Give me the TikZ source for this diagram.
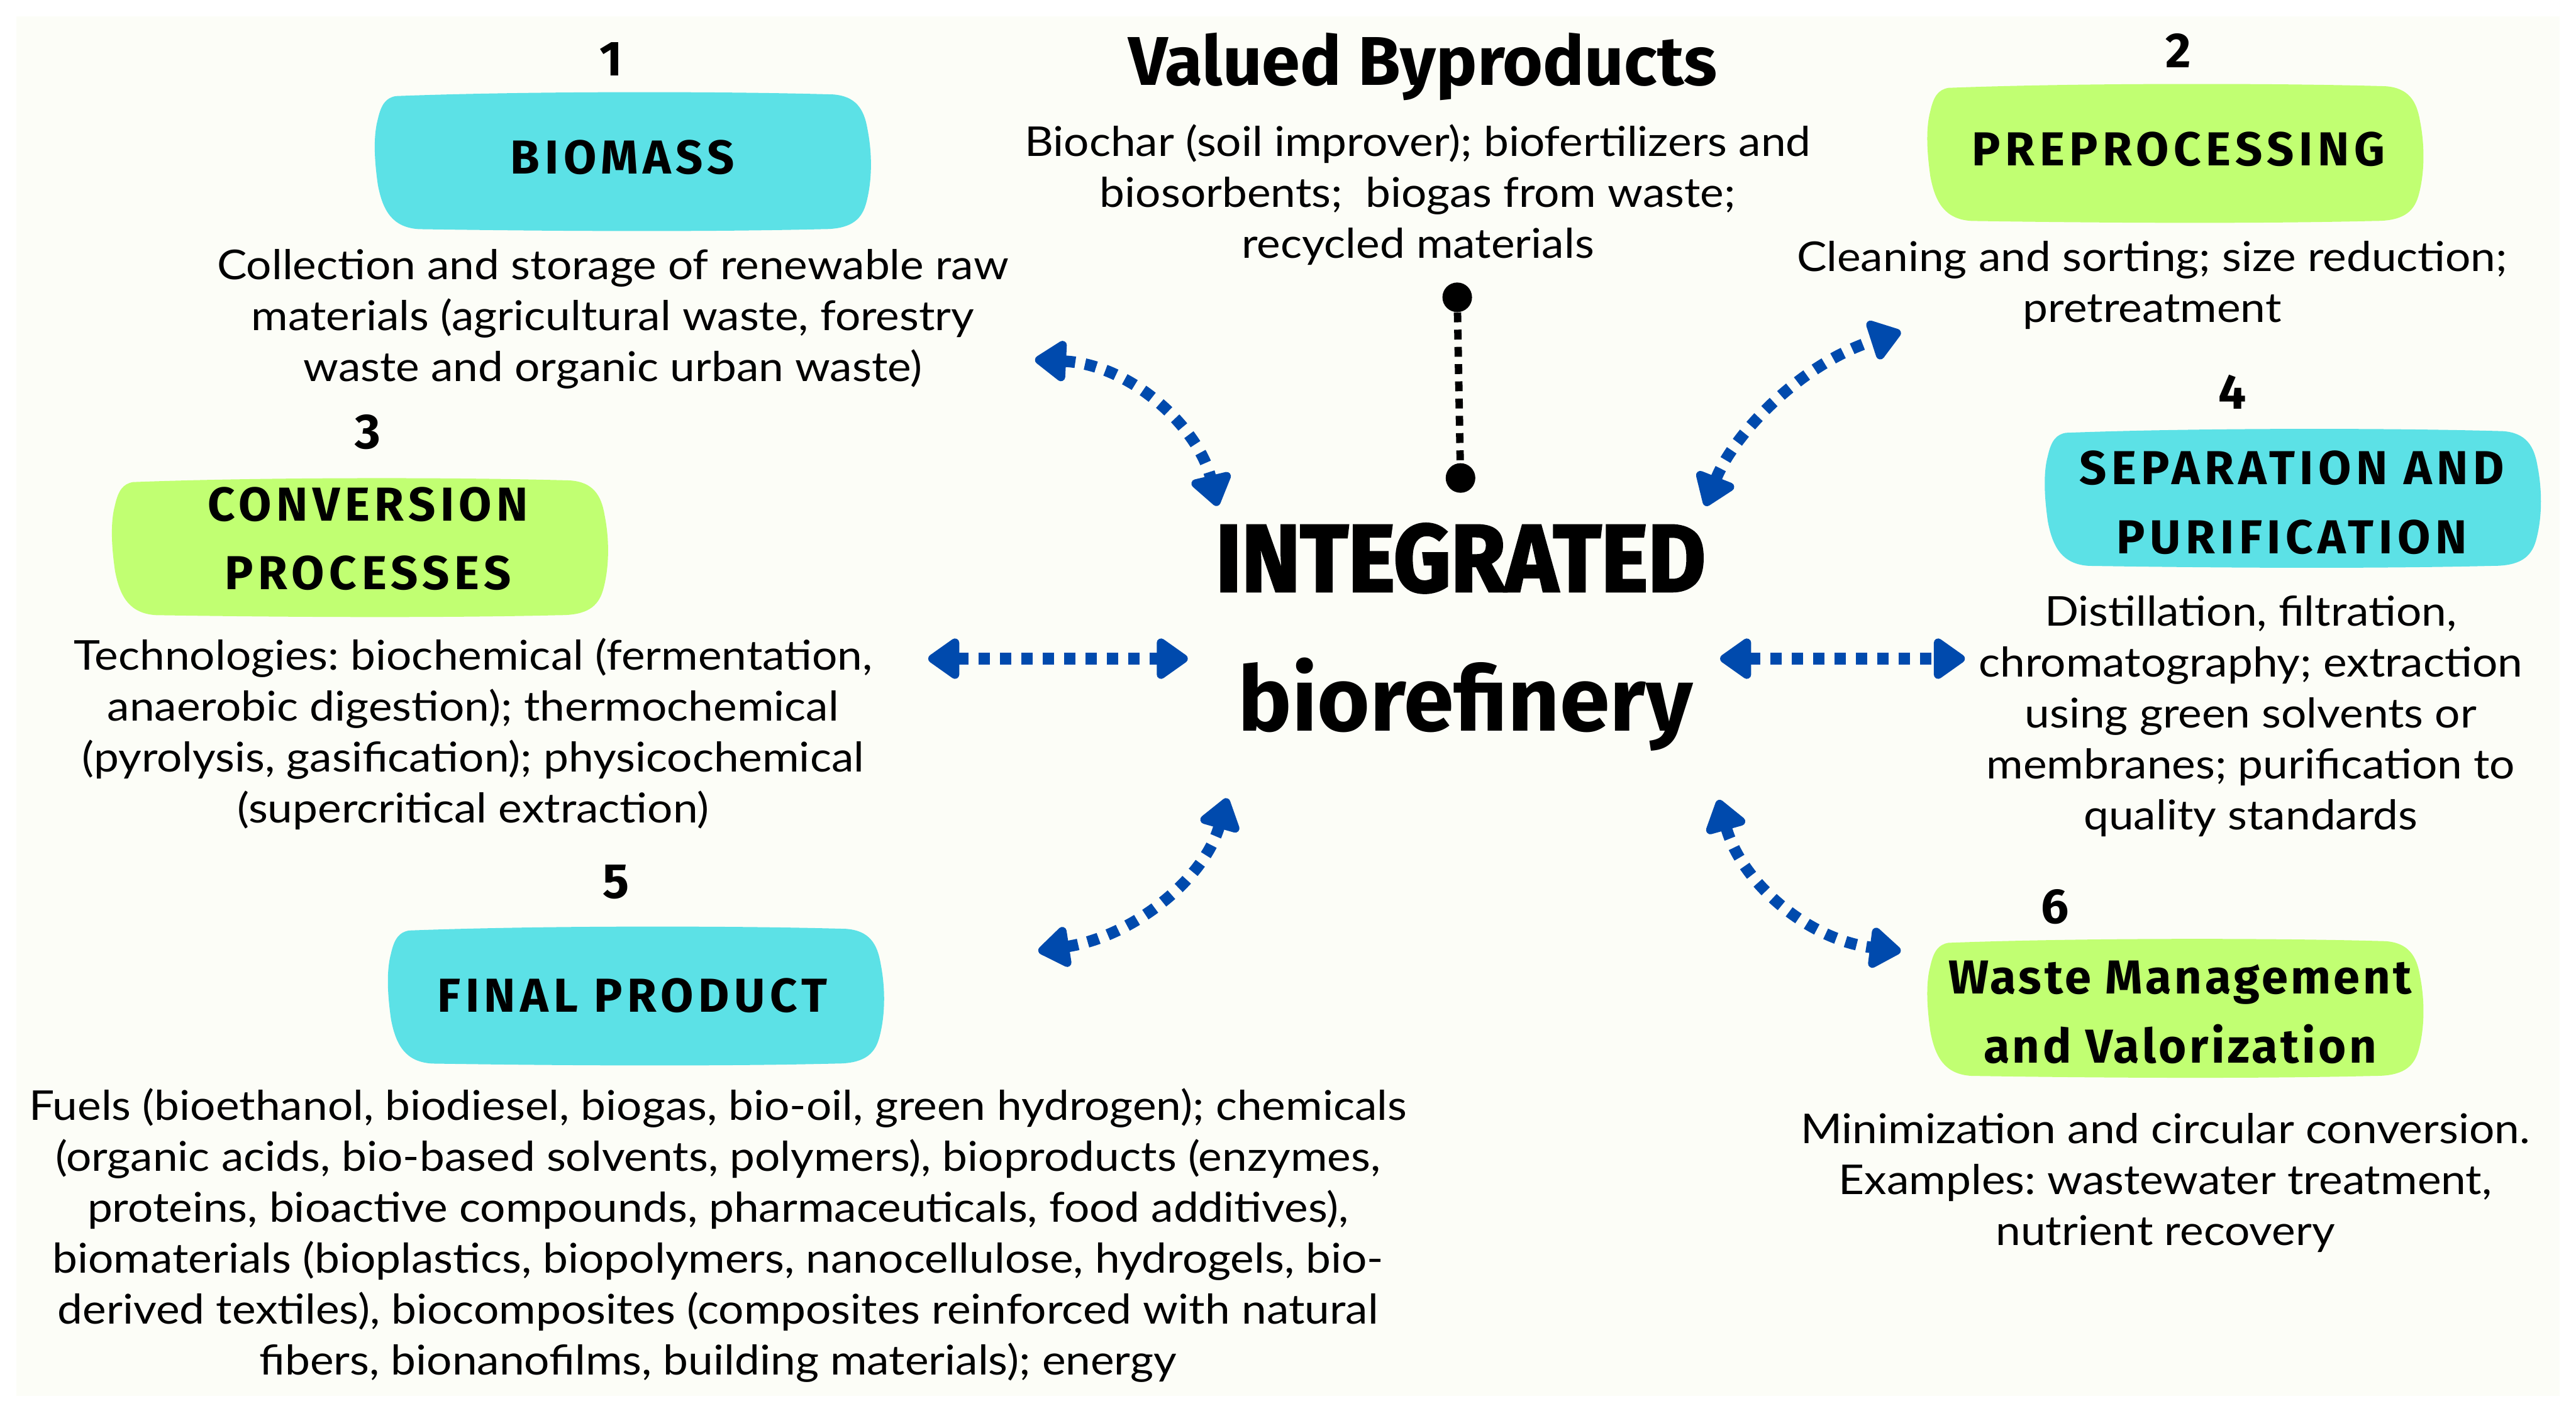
\documentclass[tikz,border=0pt]{standalone}
\usepackage{fontspec}
\usepackage{graphicx}
\setmainfont{Lato}[FakeStretch=1.09]
\newfontfamily\hand{Fira Sans}
\newfontfamily\handsp[LetterSpace=10]{Fira Sans}
\newfontfamily\handw[LetterSpace=6]{Fira Sans}
\newfontfamily\heavy[FakeBold=2.5]{Fira Sans}
\usetikzlibrary{arrows.meta}
\definecolor{bg}{HTML}{FCFDF7}
\definecolor{cya}{HTML}{5CE1E6}
\definecolor{lime}{HTML}{C1FF72}
\definecolor{arblue}{HTML}{004AAD}
\newcommand\blob[2]{\fill[#2,shift={(#1)}] (-138,-40) .. controls (-60,-43) and (60,-43) .. (128,-41)
 .. controls (142,-40) and (147,-32) .. (149,-20)
 .. controls (152,-5) and (152,12) .. (148,26)
 .. controls (145,36) and (138,41) .. (122,41)
 .. controls (40,43) and (-60,42) .. (-124,41)
 .. controls (-140,40) and (-146,30) .. (-149,14)
 .. controls (-151,0) and (-152,-15) .. (-149,-26)
 .. controls (-147,-35) and (-144,-39) .. (-138,-40) -- cycle;}
\newcommand\ml[1]{\begin{tabular}[t]{@{}c@{}}#1\end{tabular}}
\frenchspacing
\tikzset{
 body/.style={anchor=base, inner sep=0pt, font=\frenchspacing\fontsize{25}{31}\selectfont},
 num/.style={anchor=base, inner sep=0pt, font=\hand\bfseries\fontsize{30}{30}\selectfont},
 lab/.style={anchor=base, inner sep=0pt, font=\handsp\bfseries\fontsize{29}{42}\selectfont},
 labw/.style={anchor=base, inner sep=0pt, font=\handw\bfseries\fontsize{29}{42}\selectfont},
 biarrow/.style={draw=arblue, line width=7pt, dash pattern=on 7pt off 6pt,
   {Triangle[length=21pt,width=28pt,round]}-{Triangle[length=21pt,width=28pt,round]}},
 dot/.style={circle, fill=black, inner sep=0pt, minimum size=18pt},
}
\begin{document}
\begin{tikzpicture}[x=1pt,y=-1pt]
\useasboundingbox (0,0) rectangle (1568,859);
\fill[white] (0,0) rectangle (1568,859);
\fill[bg] (10,10) rectangle (1558,850);

% boxes
\blob{379,98.5}{cya}
\blob{1324,93.5}{lime}
\blob{1395.5,303.5}{cya}
\blob{219,333.5}{lime}
\blob{387,606.5}{cya}
\blob{1324,614}{lime}

% numbers
\node[num] (n1) at (372,46) {1};
\node[num] (n2) at (1326,41) {2};
\node[num] (n3) at (224,273) {3};
\node[num] (n4) at (1359,249) {4};
\node[num] (n5) at (375,547) {5};
\node[num] (n6) at (1251,562) {6};

% labels
\node[lab] (l1) at (379,106) {BIOMASS};
\node[lab] (l2) at (1326,101) {PREPROCESSING};
\node[lab] (l4) at (1395,295) {\ml{SEPARATION AND\\PURIFICATION}};
\node[lab] (l3) at (224,317) {\ml{CONVERSION\\PROCESSES}};
\node[lab] (l5) at (385,616) {FINAL PRODUCT};
\node[labw] (l6) at (1327,605) {\ml{Waste Management\\and Valorization}};

% descriptions
\node[body] (t1) at (373,170) {\ml{Collection and storage of renewable raw\\materials (agricultural waste, forestry\\waste and organic urban waste)}};
\node[body] (tb) at (863,95) {\ml{Biochar (soil improver); biofertilizers and\\biosorbents;\ \ biogas from waste;\\recycled materials}};
\node[body] (t2) at (1310,165) {\ml{Cleaning and sorting; size reduction;\\pretreatment}};
\node[body] (t4) at (1370,381) {\ml{Distillation, filtration,\\chromatography; extraction\\using green solvents or\\membranes; purification to\\quality standards}};
\node[body] (t3) at (288,408) {\ml{Technologies: biochemical (fermentation,\\anaerobic digestion); thermochemical\\(pyrolysis, gasification); physicochemical\\(supercritical extraction)}};
\node[body] (t5) at (437,682) {\ml{Fuels (bioethanol, biodiesel, biogas, bio-oil, green hydrogen); chemicals\\(organic acids, bio-based solvents, polymers), bioproducts (enzymes,\\proteins, bioactive compounds, pharmaceuticals, food additives),\\biomaterials (bioplastics, biopolymers, nanocellulose, hydrogels, bio-\\derived textiles), biocomposites (composites reinforced with natural\\fibers, bionanofilms, building materials); energy}};
\node[body] (t6) at (1318,696) {\ml{Minimization and circular conversion.\\Examples: wastewater treatment,\\nutrient recovery}};

% titles
\node[anchor=base, inner sep=0pt, font=\hand\bfseries\fontsize{42}{42}\selectfont] (vb) at (866,52) {Valued Byproducts};
\node[anchor=base, inner sep=0pt, font=\heavy\bfseries\fontsize{58}{58}\selectfont] (int) at (889,360) {\scalebox{0.93}[1]{INTEGRATED}};
\node[anchor=base, inner sep=0pt, font=\hand\bfseries\fontsize{55}{55}\selectfont] (bio) at (892,445) {biorefinery};

% byproduct link
\node[dot] (dtop) at (887,181) {};
\node[dot] (dbot) at (889,291) {};
\draw[line width=4.5pt, dash pattern=on 6pt off 4.5pt] (dtop) -- (dbot);

% arrow end points
\coordinate (a1s) at (630,219);  \coordinate (a1e) at (741,308);
\coordinate (a2s) at (1038,308); \coordinate (a2e) at (1157,202);
\coordinate (a3s) at (565,401);  \coordinate (a3e) at (723,401);
\coordinate (a4s) at (1047,401); \coordinate (a4e) at (1196,401);
\coordinate (a5s) at (632,579);  \coordinate (a5e) at (747,486);
\coordinate (a6s) at (1046,487); \coordinate (a6e) at (1157,579);

\draw[biarrow] (a1s) .. controls (690,222) and (730,262) .. (a1e);
\draw[biarrow] (a2s) .. controls (1055,265) and (1095,222) .. (a2e);
\draw[biarrow] (a3s) -- (a3e);
\draw[biarrow] (a4s) -- (a4e);
\draw[biarrow] (a5s) .. controls (690,570) and (733,535) .. (a5e);
\draw[biarrow] (a6s) .. controls (1060,537) and (1100,572) .. (a6e);
\end{tikzpicture}
\end{document}
